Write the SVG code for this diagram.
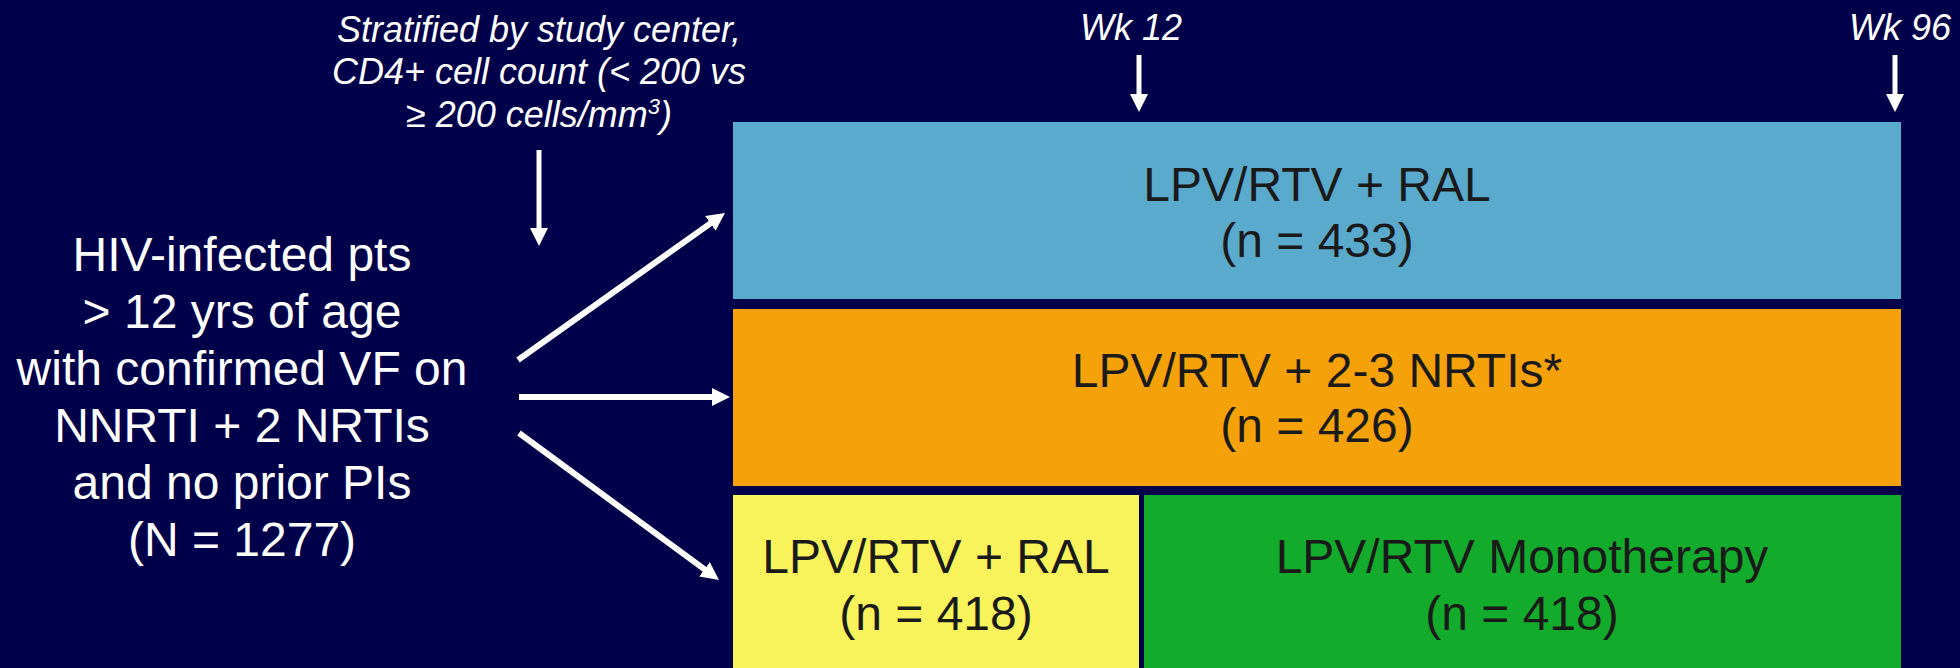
<svg xmlns="http://www.w3.org/2000/svg" width="1960" height="668" viewBox="0 0 1960 668">
  <style>
    text { font-family: "Liberation Sans", Arial, sans-serif; }
    .white { fill: #ffffff; }
    .lead { font-size: 48px; text-anchor: middle; fill: #ffffff; }
    .note { font-size: 36px; font-style: italic; text-anchor: middle; fill: #ffffff; }
    .arm { font-size: 48px; text-anchor: middle; fill: #1a1a1a; }
    .conn { stroke: #ffffff; fill: none; }
    .thick { stroke-width: 6; marker-end: url(#ah); }
    .thin { stroke-width: 5; marker-end: url(#ah); }
  </style>
  <defs>
    <marker id="ah" viewBox="0 0 18 18" refX="4" refY="9" markerWidth="18" markerHeight="18" markerUnits="userSpaceOnUse" orient="auto">
      <path d="M0,0 L18,9 L0,18 z" fill="#ffffff"/>
    </marker>
  </defs>
  <rect x="0" y="0" width="1960" height="668" fill="#00004a"/>

  <g id="strat-note">
    <text class="note" x="539" y="42">Stratified by study center,</text>
    <text class="note" x="539" y="84">CD4+ cell count (&lt; 200 vs</text>
    <text class="note" x="539" y="127">≥ 200 cells/mm<tspan font-size="22" dy="-13">3</tspan><tspan dy="13">)</tspan></text>
  </g>

  <g id="wk12">
    <text class="note" x="1131" y="40">Wk 12</text>
  </g>
  <g id="wk96">
    <text class="note" x="1900" y="40">Wk 96</text>
  </g>

  <g id="population">
    <text class="lead" x="242" y="271">HIV-infected pts</text>
    <text class="lead" x="242" y="328">&gt; 12 yrs of age</text>
    <text class="lead" x="242" y="385">with confirmed VF on</text>
    <text class="lead" x="242" y="442">NNRTI + 2 NRTIs</text>
    <text class="lead" x="242" y="499">and no prior PIs</text>
    <text class="lead" x="242" y="556">(N = 1277)</text>
  </g>

  <g id="arm-ral">
    <rect x="733" y="122" width="1168" height="177" fill="#5aaace"/>
    <text class="arm" x="1317" y="201">LPV/RTV + RAL</text>
    <text class="arm" x="1317" y="257">(n = 433)</text>
  </g>

  <g id="arm-nrti">
    <rect x="733" y="309" width="1168" height="177" fill="#f5a20a"/>
    <text class="arm" x="1317" y="387">LPV/RTV + 2-3 NRTIs*</text>
    <text class="arm" x="1317" y="442">(n = 426)</text>
  </g>

  <g id="arm-ral-induction">
    <rect x="733" y="495" width="406" height="173" fill="#f8f35a"/>
    <text class="arm" x="936" y="573">LPV/RTV + RAL</text>
    <text class="arm" x="936" y="630">(n = 418)</text>
  </g>

  <g id="arm-mono">
    <rect x="1144" y="495" width="757" height="173" fill="#13ab2c"/>
    <text class="arm" x="1522" y="573">LPV/RTV Monotherapy</text>
    <text class="arm" x="1522" y="630">(n = 418)</text>
  </g>

  <g id="connectors">
    <line class="conn thin" x1="539" y1="150" x2="539" y2="232"/>
    <line class="conn thin" x1="1139" y1="55" x2="1139" y2="98"/>
    <line class="conn thin" x1="1895" y1="55" x2="1895" y2="98"/>
    <line class="conn thick" x1="518" y1="360" x2="713.6" y2="221.1"/>
    <line class="conn thick" x1="519" y1="397" x2="716" y2="397"/>
    <line class="conn thick" x1="519" y1="433" x2="707.7" y2="571.7"/>
  </g>
</svg>
